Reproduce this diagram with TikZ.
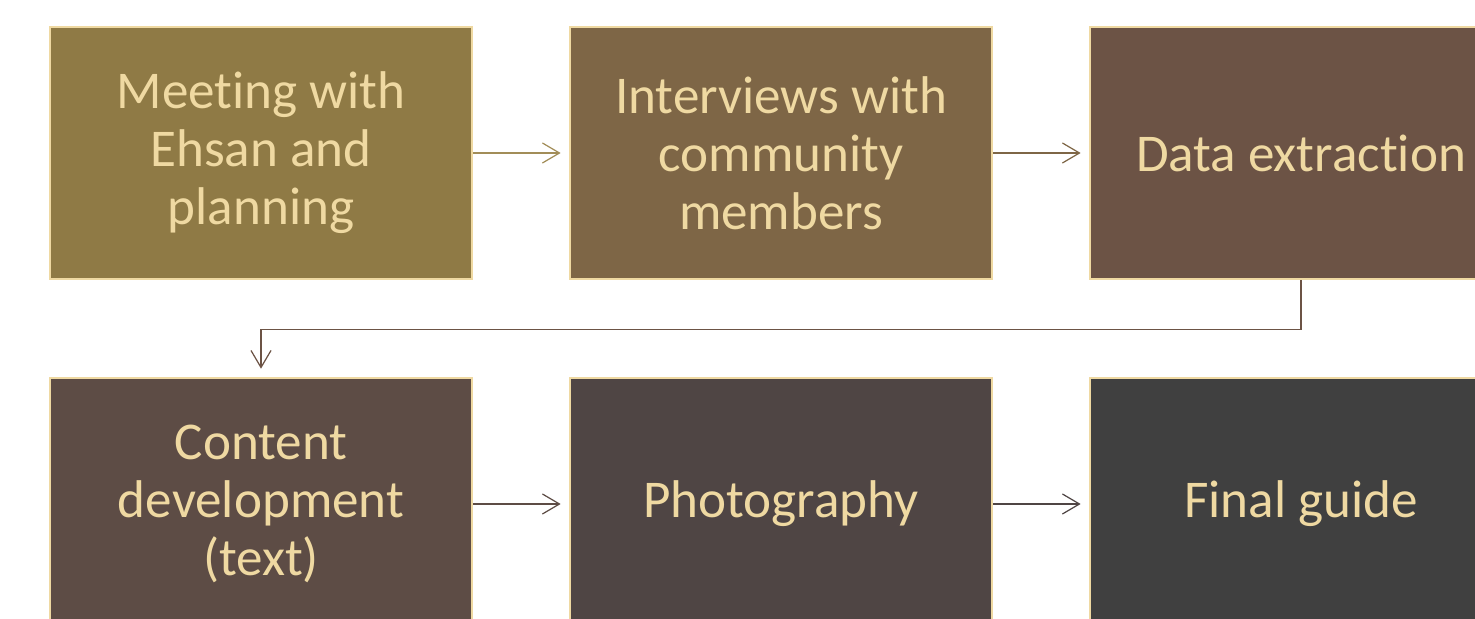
\documentclass[tikz,border=0pt]{standalone}
\usepackage{fontspec}
\setmainfont[Ligatures=NoCommon]{Carlito}
\usetikzlibrary{arrows.meta}

\definecolor{beige}{HTML}{EFD9A2}
\definecolor{stepA}{HTML}{8F7A45}
\definecolor{stepB}{HTML}{7E6646}
\definecolor{stepC}{HTML}{6C5345}
\definecolor{stepD}{HTML}{5D4C45}
\definecolor{stepE}{HTML}{4F4544}
\definecolor{stepF}{HTML}{404040}

\begin{document}
\begin{tikzpicture}[x=0.01cm,y=-0.01cm,
    stepbox/.style={draw=beige, line width=0.7pt, minimum width=4.22cm,
      minimum height=2.52cm, inner sep=0pt, align=center, text=beige,
      font=\fontsize{15.1}{16.5}\selectfont},
    flow/.style={line width=0.35pt, shorten >=0.08cm,
      -{Straight Barb[length=0.17cm,width=0.2cm,line width=0.35pt]}}]
  \useasboundingbox (0,0) rectangle (1475,619);
  \clip (0,0) rectangle (1475,619);
  % top row
  \node[stepbox, fill=stepA] (meet) at (261,153) {Meeting with\\Ehsan and\\planning};
  \node[stepbox, fill=stepB] (interv) at (781,153) {Interviews with\\community\\members};
  \node[stepbox, fill=stepC] (extract) at (1301,153) {Data extraction};
  % bottom row
  \node[stepbox, fill=stepD] (content) at (261,504) {Content\\development\\(text)};
  \node[stepbox, fill=stepE] (photo) at (781,504) {Photography};
  \node[stepbox, fill=stepF] (final) at (1301,504) {Final guide};
  % connectors
  \draw[flow, stepA!80!beige] (meet) -- (interv);
  \draw[flow, stepB] (interv) -- (extract);
  \draw[flow, stepC] (extract.south) -- ++(0,49) -| (content.north);
  \draw[flow, stepD] (content) -- (photo);
  \draw[flow, stepE] (photo) -- (final);
\end{tikzpicture}
\end{document}
